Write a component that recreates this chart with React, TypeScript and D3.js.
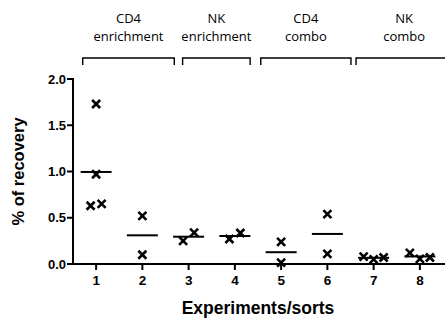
import * as d3 from "d3";

// experiments/sorts on the x axis
const sorts = ["1", "2", "3", "4", "5", "6", "7", "8"];

// % of recovery, one array per sort (replicates in plotted order)
const recovery: number[][] = [
  [1.73, 0.97, 0.63, 0.65],
  [0.52, 0.1],
  [0.25, 0.34],
  [0.27, 0.335],
  [0.24, 0.015],
  [0.54, 0.11],
  [0.08, 0.05, 0.07],
  [0.12, 0.055, 0.07],
];

const yTicks = [0, 0.5, 1.0, 1.5, 2.0];

// bracket groups over the top, spans in sort units
const groupLabels = [
  ["CD4", "enrichment"],
  ["NK", "enrichment"],
  ["CD4", "combo"],
  ["NK", "combo"],
];
const groupSpans = [
  [0.71, 2.69],
  [2.87, 4.33],
  [4.56, 6.51],
  [6.62, 8.7],
];

const W = 445;
const H = 322;
const left = 73;
const right = 443;
const top = 79;
const bottom = 264;

const x = d3.scaleBand<string>().domain(sorts).range([left, right]);
const xNum = d3
  .scaleLinear()
  .domain([1, 8])
  .range([x("1")! + x.bandwidth() / 2, x("8")! + x.bandwidth() / 2]);
const y = d3.scaleLinear().domain([0, 2]).range([bottom, top]);

// spread replicates sideways when their values are close
function jitter(vals: number[]) {
  const offs = vals.map(() => 0);
  const used = vals.map(() => false);
  vals.forEach((v, i) => {
    if (used[i]) return;
    const cluster = [i];
    used[i] = true;
    vals.forEach((w, j) => {
      if (!used[j] && Math.abs(w - v) < 0.11) {
        cluster.push(j);
        used[j] = true;
      }
    });
    const step = cluster.length > 2 ? 10 : 11;
    cluster.forEach((k, n) => {
      offs[k] = (n - (cluster.length - 1) / 2) * step;
    });
  });
  return offs;
}

const font = "'Liberation Sans', Arial, sans-serif";

export default function App() {
  const cross = "M-4,-4L4,4M-4,4L4,-4";
  return (
    <svg
      width={W}
      height={H}
      style={{ position: "absolute", left: 0, top: 0, background: "#fff" }}
    >
      {/* brackets */}
      {groupSpans.map(([a, b], i) => {
        const x0 = xNum(a);
        const x1 = xNum(b);
        const mid = (x0 + x1) / 2;
        return (
          <g key={i}>
            <path
              d={`M${x0},65V58H${x1}V65`}
              fill="none"
              stroke="#000"
              strokeWidth={1.4}
            />
            <text
              x={mid}
              y={23}
              textAnchor="middle"
              fontFamily="'Open Sans', sans-serif"
              fontSize={13}
            >
              {groupLabels[i][0]}
            </text>
            <text
              x={mid}
              y={41}
              textAnchor="middle"
              fontFamily="'Open Sans', sans-serif"
              fontSize={13}
            >
              {groupLabels[i][1]}
            </text>
          </g>
        );
      })}

      {/* y axis */}
      <line x1={left} x2={left} y1={top - 1} y2={bottom + 1} stroke="#000" strokeWidth={2} />
      {yTicks.map((t) => (
        <g key={t} transform={`translate(0,${y(t)})`}>
          <line x1={left - 6} x2={left} stroke="#000" strokeWidth={2} />
          <text
            x={left - 7}
            dy="0.35em"
            textAnchor="end"
            fontFamily={font}
            fontWeight="bold"
            fontSize={13}
          >
            {t.toFixed(1)}
          </text>
        </g>
      ))}
      <text
        transform={`translate(24,${(top + bottom) / 2}) rotate(-90)`}
        textAnchor="middle"
        fontFamily={font}
        fontWeight="bold"
        fontSize={16.5}
      >
        % of recovery
      </text>

      {/* x axis */}
      <line x1={left - 1} x2={W} y1={bottom} y2={bottom} stroke="#000" strokeWidth={2} />
      {sorts.map((s) => {
        const cx = x(s)! + x.bandwidth() / 2;
        return (
          <g key={s} transform={`translate(${cx},0)`}>
            <line y1={bottom} y2={bottom + 6} stroke="#000" strokeWidth={2} />
            <text
              y={285}
              textAnchor="middle"
              fontFamily={font}
              fontWeight="bold"
              fontSize={13.5}
            >
              {s}
            </text>
          </g>
        );
      })}
      <text
        x={258}
        y={314}
        textAnchor="middle"
        fontFamily={font}
        fontWeight="bold"
        fontSize={17.5}
      >
        Experiments/sorts
      </text>

      {/* replicates and means */}
      {recovery.map((vals, i) => {
        const cx = x(sorts[i])! + x.bandwidth() / 2;
        const offs = jitter(vals);
        const m = d3.mean(vals)!;
        return (
          <g key={i}>
            <line
              x1={cx - 15.5}
              x2={cx + 15.5}
              y1={y(m)}
              y2={y(m)}
              stroke="#000"
              strokeWidth={2}
            />
            {vals.map((v, j) => (
              <path
                key={j}
                d={cross}
                transform={`translate(${cx + offs[j]},${y(v)})`}
                stroke="#000"
                strokeWidth={2.6}
                fill="none"
              />
            ))}
          </g>
        );
      })}
    </svg>
  );
}
